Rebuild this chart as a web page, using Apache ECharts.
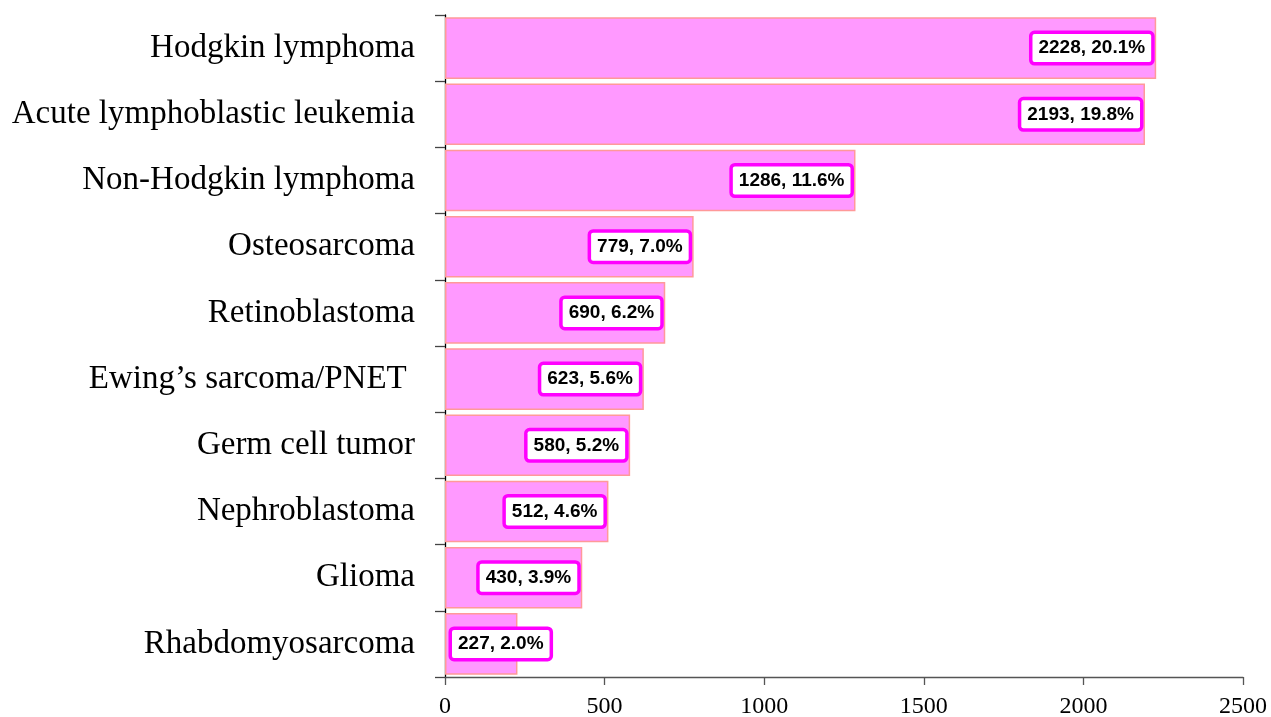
<!DOCTYPE html>
<html><head><meta charset="utf-8">
<script src="https://cdn.jsdelivr.net/npm/echarts@6/dist/echarts.min.js"></script>
<style>html,body{margin:0;padding:0;background:#fff}#c{width:1271px;height:717px}</style>
</head><body><div id="c"></div>
<script>
const categories = ["Hodgkin lymphoma","Acute lymphoblastic leukemia","Non-Hodgkin lymphoma","Osteosarcoma","Retinoblastoma","Ewing\u2019s sarcoma/PNET ","Germ cell tumor","Nephroblastoma","Glioma","Rhabdomyosarcoma"];
const counts = [2228,2193,1286,779,690,623,580,512,430,227];
const percents = ["20.1%","19.8%","11.6%","7.0%","6.2%","5.6%","5.2%","4.6%","3.9%","2.0%"];
const xTicks = [0,500,1000,1500,2000,2500];

const chart = echarts.init(document.getElementById('c'));
const data = counts.map((v,i)=>{
  const d = {value:v};
  if (v < 300) d.label = {position:'insideLeft', distance:7};
  return d;
});
chart.setOption({
  animation:false,
  grid:{left:445,right:28,top:15,bottom:40,containLabel:false,outerBoundsMode:'none'},
  xAxis:{type:'value',min:xTicks[0],max:xTicks[xTicks.length-1],interval:500,
    splitLine:{show:false},
    axisLine:{show:true,lineStyle:{color:'#555',width:1.3}},
    axisTick:{show:true,length:8,lineStyle:{color:'#555',width:1.3}},
    axisLabel:{fontFamily:'Liberation Serif',fontSize:24,color:'#000',margin:18,formatter:v=>String(v)}},
  yAxis:{type:'category',data:categories,inverse:true,
    axisLine:{show:true,lineStyle:{color:'#000',width:1.3}},
    axisTick:{show:true,length:10,lineStyle:{color:'#444',width:1.3}},
    axisLabel:{fontFamily:'Liberation Serif',fontSize:33,color:'#000',margin:30}},
  series:[{type:'bar',data:data,barCategoryGap:'7%',
    itemStyle:{color:'#FF99FF',borderColor:'#FF9999',borderWidth:1.5},
    label:{show:true,position:'insideRight',distance:5,
      formatter:p=>counts[p.dataIndex]+', '+percents[p.dataIndex],
      fontFamily:'Liberation Sans',fontWeight:'bold',fontSize:19,color:'#000',
      backgroundColor:'#fff',borderColor:'#FF00FF',borderWidth:3.5,borderRadius:2,
      padding:[5,6,4,6]}}]
});
</script></body></html>
